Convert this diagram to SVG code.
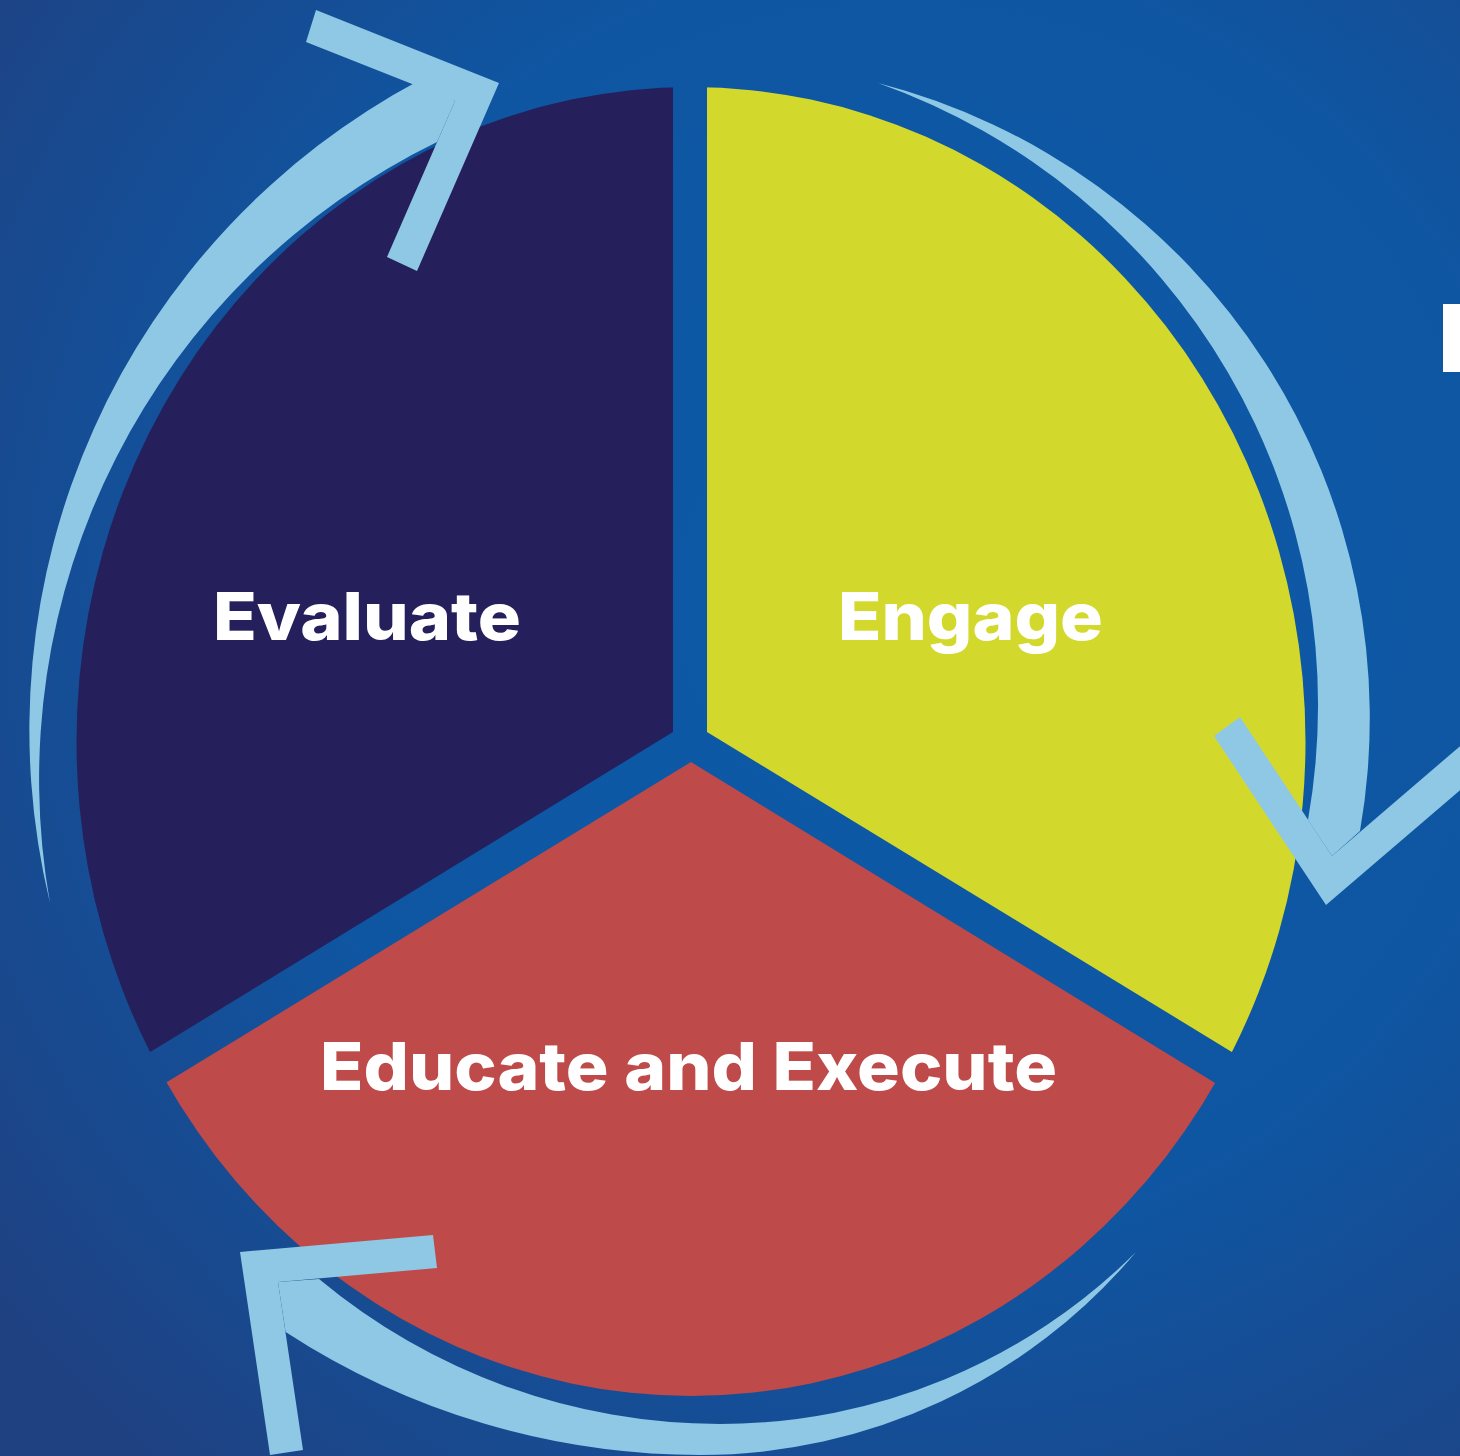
<svg xmlns="http://www.w3.org/2000/svg" width="1460" height="1456" viewBox="0 0 1460 1456">
<defs>
<radialGradient id="bg" cx="900" cy="600" r="1150" gradientUnits="userSpaceOnUse">
<stop offset="0" stop-color="#0b5aa8"/>
<stop offset="0.55" stop-color="#0f56a2"/>
<stop offset="1" stop-color="#1f4182"/>
</radialGradient>
<clipPath id="pie"><ellipse cx="691" cy="741.5" rx="614.5" ry="654.5"/></clipPath>
<style>
.arrow{fill:#8fc8e5}
.label{font-family:Inter,"Liberation Sans",sans-serif;font-weight:800;fill:#ffffff;font-size:66px}
</style>
</defs>
<rect width="1460" height="1456" fill="url(#bg)"/>
<g id="node-evaluate">
<polygon clip-path="url(#pie)" fill="#25205c" points="673,732 673,0 0,0 0,1144"/>
<text class="label" x="213" y="640" textLength="308" lengthAdjust="spacingAndGlyphs">Evaluate</text>
</g>
<g id="node-engage">
<polygon clip-path="url(#pie)" fill="#d3d92c" points="707,732 707,0 1460,0 1460,1191"/>
<text class="label" x="838" y="640" textLength="265" lengthAdjust="spacingAndGlyphs">Engage</text>
</g>
<g id="node-educate">
<polygon clip-path="url(#pie)" fill="#bf4a4a" points="691,762 0,1184 0,1456 1460,1456 1460,1233"/>
<text class="label" x="320" y="1090" textLength="737" lengthAdjust="spacingAndGlyphs">Educate and Execute</text>
</g>
<g id="connectors" class="arrow">
<path d="M50,903 A736,736 0 0 1 420,80 L455,101 L437,142 A709,709 0 0 0 50,903 Z"/>
<polygon points="316,10 499,83 417,271 387,257 455,101 306,42"/>
<path d="M878,83 A656,656 0 0 1 1360,831 L1332,856 L1308,820 A660,660 0 0 0 878,83 Z"/>
<polygon points="1214,736 1326,905 1480,773 1480,729 1332,856 1240,717"/>
<path d="M1136,1252 A569,569 0 0 1 700,1455 A760,760 0 0 1 285.6,1332 L278,1282 L319,1279 A626.6,626.6 0 0 0 720,1424 A589,589 0 0 0 1136,1252 Z"/>
<polygon points="433,1235 240,1252 270,1455 303,1450 278,1282 437,1268"/>
</g>
<rect x="1443" y="304" width="20" height="68" fill="#ffffff"/>
</svg>
